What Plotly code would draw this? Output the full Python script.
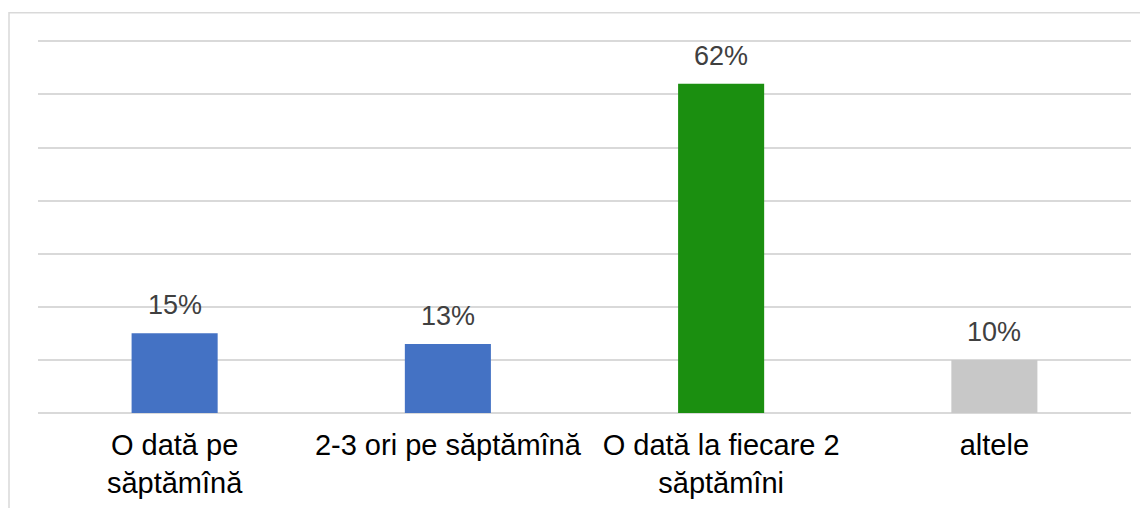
import plotly.graph_objects as go

categories = ["O dată pe<br>săptămînă", "2-3 ori pe săptămînă", "O dată la fiecare 2<br>săptămîni", "altele"]
values = [0.15, 0.13, 0.62, 0.10]
labels = ["15%", "13%", "62%", "10%"]
colors = ["#4472C4", "#4472C4", "#1B8F10", "#C8C8C8"]

FONT = "Liberation Sans, Arial"

fig = go.Figure(go.Bar(
    x=categories, y=values, marker=dict(color=colors, line=dict(width=0)),
    width=0.315, hoverinfo="skip",
))

for c, v, s in zip(categories, values, labels):
    fig.add_annotation(x=c, y=v, text=s, showarrow=False, yanchor="middle", yshift=28,
                       font=dict(family=FONT, size=27, color="#404040"))

# page has an 8px body margin; figure sized to fit the 1148x508 window
W, H = 1140, 500
YMAX = 0.71
unit = (405 - 33.5) / 0.70          # pixels per 1.0 of value
t = 405 - unit * YMAX
l, r, b = 30, 17, 95
pw, ph = W - l - r, H - t - b

fig.update_layout(
    width=W, height=H, margin=dict(l=l, r=r, t=t, b=b),
    paper_bgcolor="white", plot_bgcolor="white", showlegend=False,
    xaxis=dict(showline=False, ticks="", showgrid=False, automargin=False,
               ticklabelstandoff=12,
               tickfont=dict(family=FONT, size=29, color="#000000")),
    yaxis=dict(range=[0, YMAX], dtick=0.10, showticklabels=False, showgrid=True,
               gridcolor="#D9D9D9", gridwidth=1.5, zeroline=True, zerolinecolor="#D9D9D9",
               zerolinewidth=1.5, ticks="", automargin=False),
    shapes=[dict(type="rect", xref="paper", yref="paper",
                 x0=(1 - l) / pw, x1=(W + 20 - l) / pw,
                 y0=-(H + 20 - (H - b)) / ph, y1=(H - b - 5) / ph,
                 line=dict(color="#D9D9D9", width=1.5), fillcolor="rgba(0,0,0,0)", layer="below")],
)

fig.write_html("out.html")
